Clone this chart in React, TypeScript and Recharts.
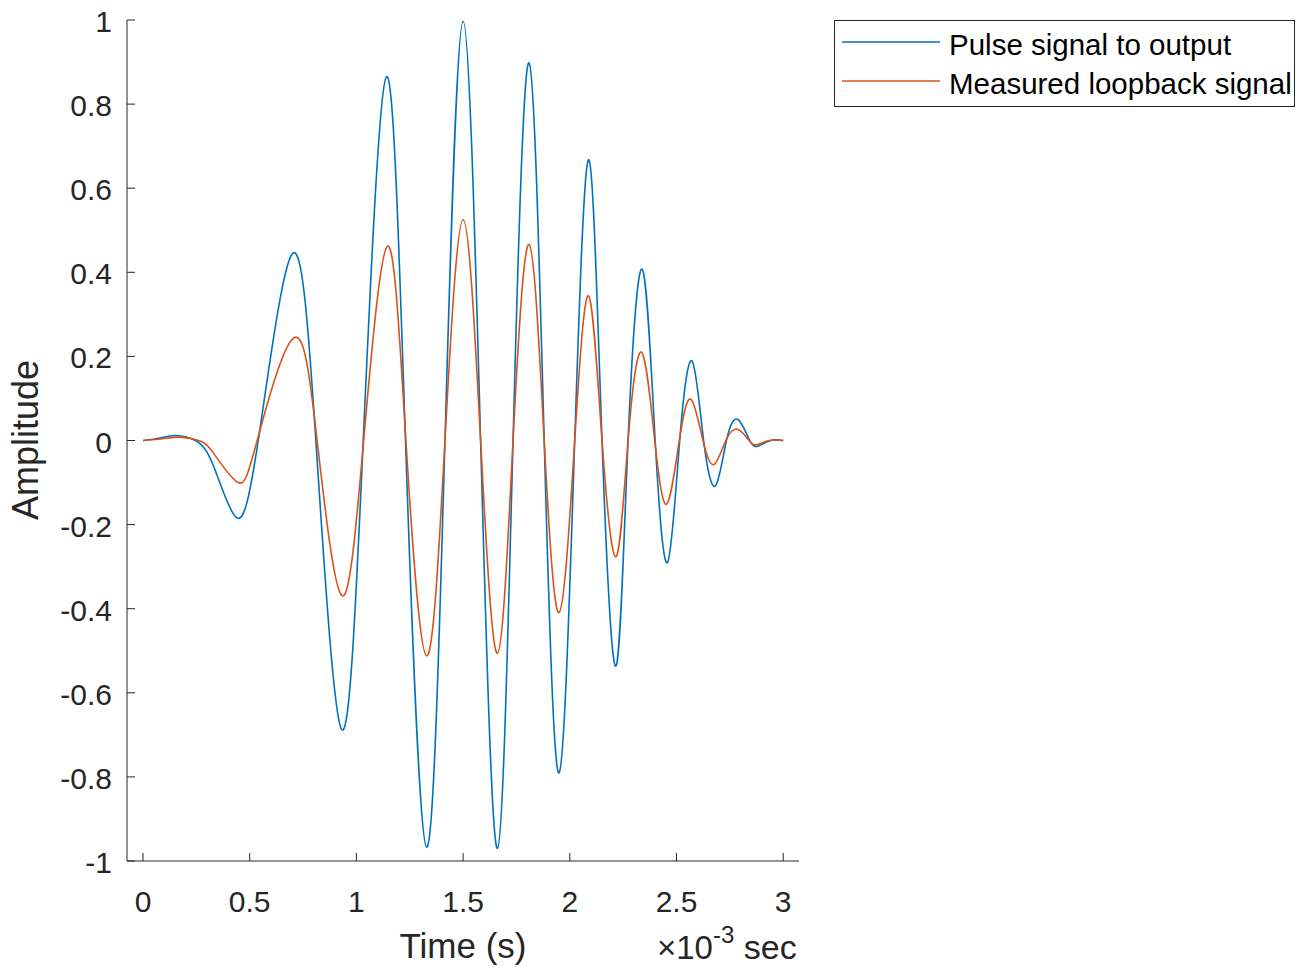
import { Legend, Line, LineChart, XAxis, YAxis } from 'recharts';

// values (time in ms, i.e. x10^-3 s)
const pulseTime = [
  0, 0.08, 0.151, 0.245, 0.33, 0.437, 0.54, 0.698, 0.81, 0.931, 1.032, 1.141, 1.23, 1.329, 1.415,
  1.5, 1.582, 1.661, 1.734, 1.809, 1.88, 1.95, 2.023, 2.09, 2.151, 2.217, 2.273, 2.34, 2.4, 2.458,
  2.515, 2.573, 2.627, 2.682, 2.734, 2.788, 2.843, 2.885, 2.94, 3.0,
];
const pulseAmp = [
  0, 0.006, 0.012, 0, -0.06, -0.183, 0, 0.443, 0, -0.687, 0, 0.865, 0, -0.967, 0, 0.997, 0, -0.97, 0,
  0.898, 0, -0.79, 0, 0.667, 0, -0.536, 0, 0.407, 0, -0.29, 0, 0.189, 0, -0.108, 0, 0.05, 0, -0.013,
  0, 0,
];

const loopTime = [
  0, 0.09, 0.175, 0.261, 0.33, 0.445, 0.535, 0.706, 0.816, 0.932, 1.034, 1.146, 1.232, 1.329, 1.415,
  1.5, 1.582, 1.661, 1.734, 1.809, 1.88, 1.95, 2.023, 2.088, 2.151, 2.217, 2.273, 2.336, 2.398, 2.454,
  2.513, 2.567, 2.624, 2.676, 2.731, 2.786, 2.84, 2.876, 2.935, 3.0,
];
const loopAmp = [
  0, 0.004, 0.008, 0, -0.03, -0.1, 0, 0.244, 0, -0.369, 0, 0.462, 0, -0.512, 0, 0.525, 0, -0.506, 0,
  0.466, 0, -0.409, 0, 0.344, 0, -0.276, 0, 0.21, 0, -0.151, 0, 0.098, 0, -0.057, 0, 0.027, 0, -0.01,
  0, 0,
];

const seriesNames = ['Pulse signal to output', 'Measured loopback signal'];
const xTicks = [0, 0.5, 1, 1.5, 2, 2.5, 3];
const yTicks = [-1, -0.8, -0.6, -0.4, -0.2, 0, 0.2, 0.4, 0.6, 0.8, 1];

const pulseData = pulseTime.map((t, i) => ({ t, v: pulseAmp[i] }));
const loopData = loopTime.map((t, i) => ({ t, v: loopAmp[i] }));

const INK = '#262626';
const BLUE = '#0072BD';
const ORANGE = '#D95319';
const FONT = '"Liberation Sans", Arial, sans-serif';
const X_DOMAIN: [number, number] = [-0.075, 3.074];

const BottomTick = ({ x, y, payload }: any) => (
  <g>
    <line x1={x} x2={x} y1={y} y2={y - 8} stroke={INK} strokeWidth={1} />
    <text x={x} y={y + 51} textAnchor="middle" fill={INK} fontSize={30} fontFamily={FONT}>
      {String(payload.value)}
    </text>
  </g>
);

const TopTick = ({ x, y }: any) => (
  <line x1={x} x2={x} y1={y} y2={y + 8} stroke={INK} strokeWidth={1} />
);

const LeftTick = ({ x, y, payload }: any) => (
  <g>
    <line x1={x} x2={x + 8} y1={y} y2={y} stroke={INK} strokeWidth={1} />
    <text x={x - 15} y={y + 12} textAnchor="end" fill={INK} fontSize={30} fontFamily={FONT}>
      {String(payload.value)}
    </text>
  </g>
);

const RightTick = ({ x, y }: any) => (
  <line x1={x} x2={x - 8} y1={y} y2={y} stroke={INK} strokeWidth={1} />
);

const timeLabel = () => (
  <g fontFamily={FONT} fill={INK}>
    <text x={463} y={958} textAnchor="middle" fontSize={35}>
      Time (s)
    </text>
    <text x={657} y={959} fontSize={33}>
      ×10
      <tspan dy={-16} fontSize={24}>
        -3
      </tspan>
      <tspan dy={16} fontSize={34}>
        {' sec'}
      </tspan>
    </text>
  </g>
);

const ampLabel = () => (
  <text
    x={38}
    y={440}
    transform="rotate(-90, 38, 440)"
    textAnchor="middle"
    fontSize={36}
    fontFamily={FONT}
    fill={INK}
  >
    Amplitude
  </text>
);

const renderLegend = (props: any) => {
  const items = [...(props.payload || [])].sort(
    (a: any, b: any) => seriesNames.indexOf(a.value) - seriesNames.indexOf(b.value),
  );
  return (
    <svg width={462} height={88} style={{ display: 'block' }}>
      <rect x={0.5} y={0.5} width={460} height={86} fill="#fff" stroke={INK} strokeWidth={1} />
      {items.map((item: any, i: number) => (
        <g key={item.value}>
          <line x1={8} x2={106} y1={22 + i * 39} y2={22 + i * 39} stroke={item.color} strokeWidth={1.6} />
          <text x={115} y={35 + i * 39} fontSize={29.5} fontFamily={FONT} fill="#000">
            {item.value}
          </text>
        </g>
      ))}
    </svg>
  );
};

export default function App() {
  return (
    <div style={{ position: 'absolute', left: 0, top: 0, width: 1296, height: 967, background: '#fff' }}>
      <LineChart width={1296} height={967} margin={{ top: 20, right: 497, bottom: 0, left: 0 }}>
        <XAxis
          dataKey="t"
          type="number"
          domain={X_DOMAIN}
          allowDataOverflow
          ticks={xTicks}
          interval={0}
          height={106}
          tickSize={0}
          tickMargin={0}
          tickLine={false}
          tick={<BottomTick />}
          axisLine={{ stroke: INK, strokeWidth: 1 }}
          label={timeLabel}
        />
        <XAxis
          xAxisId="top"
          orientation="top"
          dataKey="t"
          type="number"
          domain={X_DOMAIN}
          allowDataOverflow
          ticks={xTicks}
          interval={0}
          height={0}
          tickSize={0}
          tickMargin={0}
          tickLine={false}
          tick={<TopTick />}
          axisLine={{ stroke: INK, strokeWidth: 1 }}
        />
        <YAxis
          type="number"
          domain={[-1, 1]}
          allowDataOverflow
          ticks={yTicks}
          interval={0}
          width={127}
          tickSize={0}
          tickMargin={0}
          tickLine={false}
          tick={<LeftTick />}
          axisLine={{ stroke: INK, strokeWidth: 1 }}
          label={ampLabel}
        />
        <YAxis
          yAxisId="right"
          orientation="right"
          type="number"
          domain={[-1, 1]}
          allowDataOverflow
          ticks={yTicks}
          interval={0}
          width={0}
          tickSize={0}
          tickMargin={0}
          tickLine={false}
          tick={<RightTick />}
          axisLine={{ stroke: INK, strokeWidth: 1 }}
        />
        <Legend
          layout="horizontal"
          align="center"
          verticalAlign="middle"
          content={renderLegend}
          wrapperStyle={{ position: 'absolute', left: 834, top: 20, width: 462, height: 88 }}
        />
        <Line
          data={pulseData}
          dataKey="v"
          name={seriesNames[0]}
          type="natural"
          stroke={BLUE}
          strokeWidth={1.6}
          dot={false}
          activeDot={false}
          isAnimationActive={false}
        />
        <Line
          data={loopData}
          dataKey="v"
          name={seriesNames[1]}
          type="natural"
          stroke={ORANGE}
          strokeWidth={1.6}
          dot={false}
          activeDot={false}
          isAnimationActive={false}
        />
      </LineChart>
    </div>
  );
}
